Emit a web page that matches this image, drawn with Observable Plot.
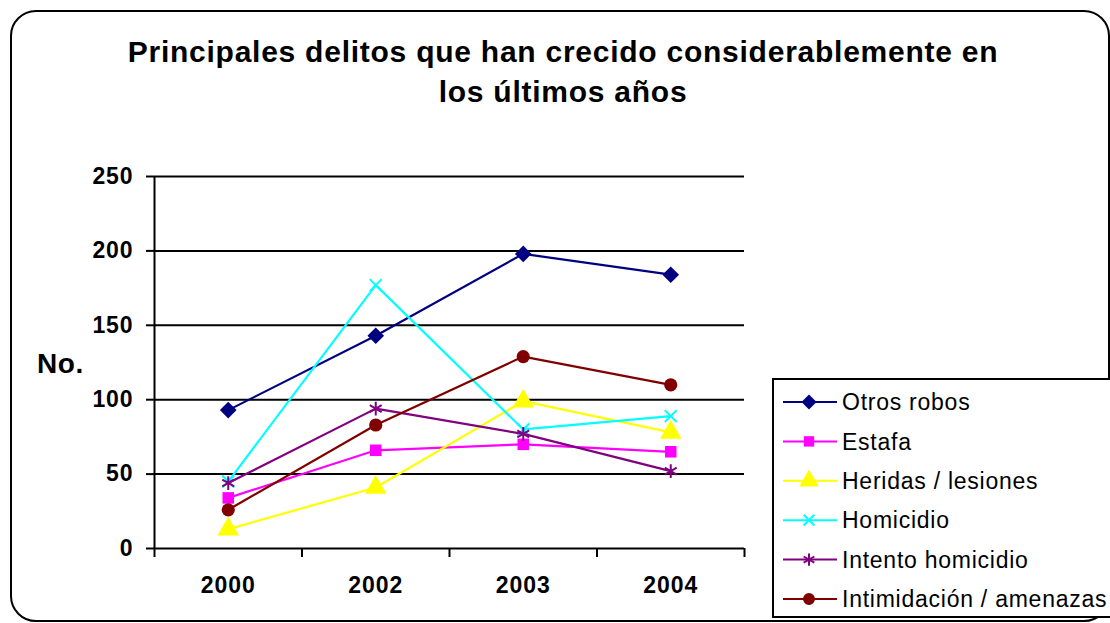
<!DOCTYPE html>
<html>
<head>
<meta charset="utf-8">
<script src="https://cdn.jsdelivr.net/npm/d3@7"></script>
<script src="https://cdn.jsdelivr.net/npm/@observablehq/plot@0.6"></script>
<style>
  html, body { margin: 0; padding: 0; background: #fff; }
  #wrap { position: relative; width: 1110px; height: 623px; overflow: hidden; font-family: Arial, "Liberation Sans", sans-serif; }
  #border { position: absolute; left: 10px; top: 10px; width: 1096px; height: 608px; border: 2px solid #000; border-radius: 26px; box-sizing: content-box; }
  #title { position: absolute; left: 0; width: 1126px; top: 32px; text-align: center; font-weight: bold; font-size: 30px; line-height: 40px; letter-spacing: 0.75px; color: #000; }
  #ylabel { position: absolute; left: 37px; top: 348px; font-weight: bold; font-size: 28px; letter-spacing: 0.6px; color: #000; }
  #chart { position: absolute; left: 0; top: 0; }
  #chart svg text { letter-spacing: 0.9px; }
  #legend { position: absolute; left: 772px; top: 378px; }
</style>
</head>
<body>
<div id="wrap">
  <div id="border"></div>
  <div id="title">Principales delitos que han crecido considerablemente en<br>los últimos años</div>
  <div id="ylabel">No.</div>
  <div id="chart"></div>
  <div id="legend"></div>
</div>
<script>
const years = ["2000", "2002", "2003", "2004"];
const yTicks = [0, 50, 100, 150, 200, 250];

const otrosRobos = [93, 143, 198, 184];
const estafa = [34, 66, 70, 65];
const heridasLesiones = [13, 41, 99, 78];
const homicidio = [45, 177, 80, 89];
const intentoHomicidio = [44, 94, 77, 52];
const intimidacionAmenazas = [26, 83, 129, 110];

const seriesNames = ["Otros robos", "Estafa", "Heridas / lesiones", "Homicidio", "Intento homicidio", "Intimidación / amenazas"];
const seriesValues = [otrosRobos, estafa, heridasLesiones, homicidio, intentoHomicidio, intimidacionAmenazas];
const seriesColors = ["#000080", "#FF00FF", "#FFFF00", "#00FFFF", "#800080", "#800000"];
const seriesSymbols = ["diamond2", "square", "triangle", "times", "asterisk", "circle"];
const seriesFilled = [true, true, true, false, false, true];
const seriesR = [7.5, 6.5, 8, 5.5, 6.5, 6.6];

const rows = seriesNames.flatMap((name, s) =>
  seriesValues[s].map((v, i) => ({series: name, i, year: years[i], value: v})));

const font = 'Arial, "Liberation Sans", sans-serif';

const marks = [
  Plot.ruleY(yTicks, {stroke: "#000", strokeWidth: 2}),
  Plot.ruleX([-0.5], {stroke: "#000", strokeWidth: 2}),
  Plot.axisY({ticks: yTicks, tickSize: 8, tickPadding: 13, label: null, strokeWidth: 2}),
  Plot.axisX({ticks: [-0.5, 0.5, 1.5, 2.5, 3.5], tickSize: 9, tickFormat: () => "", label: null, strokeWidth: 2}),
  Plot.axisX({ticks: [0, 1, 2, 3], tickSize: 0, tickPadding: 28, tickFormat: (i) => years[i], label: null})
];

seriesNames.forEach((name, s) => {
  const data = rows.filter(d => d.series === name);
  marks.push(Plot.line(data, {x: "i", y: "value", stroke: seriesColors[s], strokeWidth: 2.2}));
  if (seriesFilled[s]) {
    marks.push(Plot.dot(data, {x: "i", y: "value", symbol: () => seriesSymbols[s], r: seriesR[s], fill: seriesColors[s], stroke: "none"}));
  } else {
    marks.push(Plot.dot(data, {x: "i", y: "value", symbol: () => seriesSymbols[s], r: seriesR[s], fill: "none", stroke: seriesColors[s], strokeWidth: 2}));
  }
});

const chart = Plot.plot({
  width: 1110,
  height: 623,
  marginLeft: 154,
  marginRight: 366,
  marginTop: 176,
  marginBottom: 75,
  x: {domain: [-0.5, 3.5]},
  y: {domain: [0, 250]},
  symbol: {type: "identity"},
  style: {fontFamily: font, fontSize: "23px", fontWeight: "bold", color: "#000", background: "transparent", overflow: "visible"},
  marks
});
document.getElementById("chart").appendChild(chart);

// Legend
const lw = 345, lh = 240;
const legend = d3.select("#legend").append("svg")
  .attr("width", lw).attr("height", lh)
  .style("overflow", "visible");
legend.append("rect")
  .attr("x", 1).attr("y", 1).attr("width", lw).attr("height", lh - 2)
  .attr("fill", "#fff").attr("stroke", "#000").attr("stroke-width", 2);
const symMap = {diamond2: d3.symbolDiamond2, square: d3.symbolSquare, triangle: d3.symbolTriangle, times: d3.symbolTimes, asterisk: d3.symbolAsterisk, circle: d3.symbolCircle};
seriesNames.forEach((name, s) => {
  const cy = 24 + s * 39.4;
  const g = legend.append("g").attr("transform", `translate(0,${cy})`);
  g.append("line").attr("x1", 11).attr("x2", 65).attr("y1", 0).attr("y2", 0)
    .attr("stroke", seriesColors[s]).attr("stroke-width", 2);
  const r = seriesR[s] * 0.9;
  g.append("path")
    .attr("transform", "translate(37,0)")
    .attr("d", d3.symbol(symMap[seriesSymbols[s]], Math.PI * r * r)())
    .attr("fill", seriesFilled[s] ? seriesColors[s] : "none")
    .attr("stroke", seriesFilled[s] ? "none" : seriesColors[s])
    .attr("stroke-width", 2);
  g.append("text").attr("x", 70).attr("y", 0).attr("dy", "0.36em")
    .attr("font-family", font).attr("font-size", 23).attr("letter-spacing", "0.75px")
    .attr("fill", "#000").text(name);
});
</script>
</body>
</html>
